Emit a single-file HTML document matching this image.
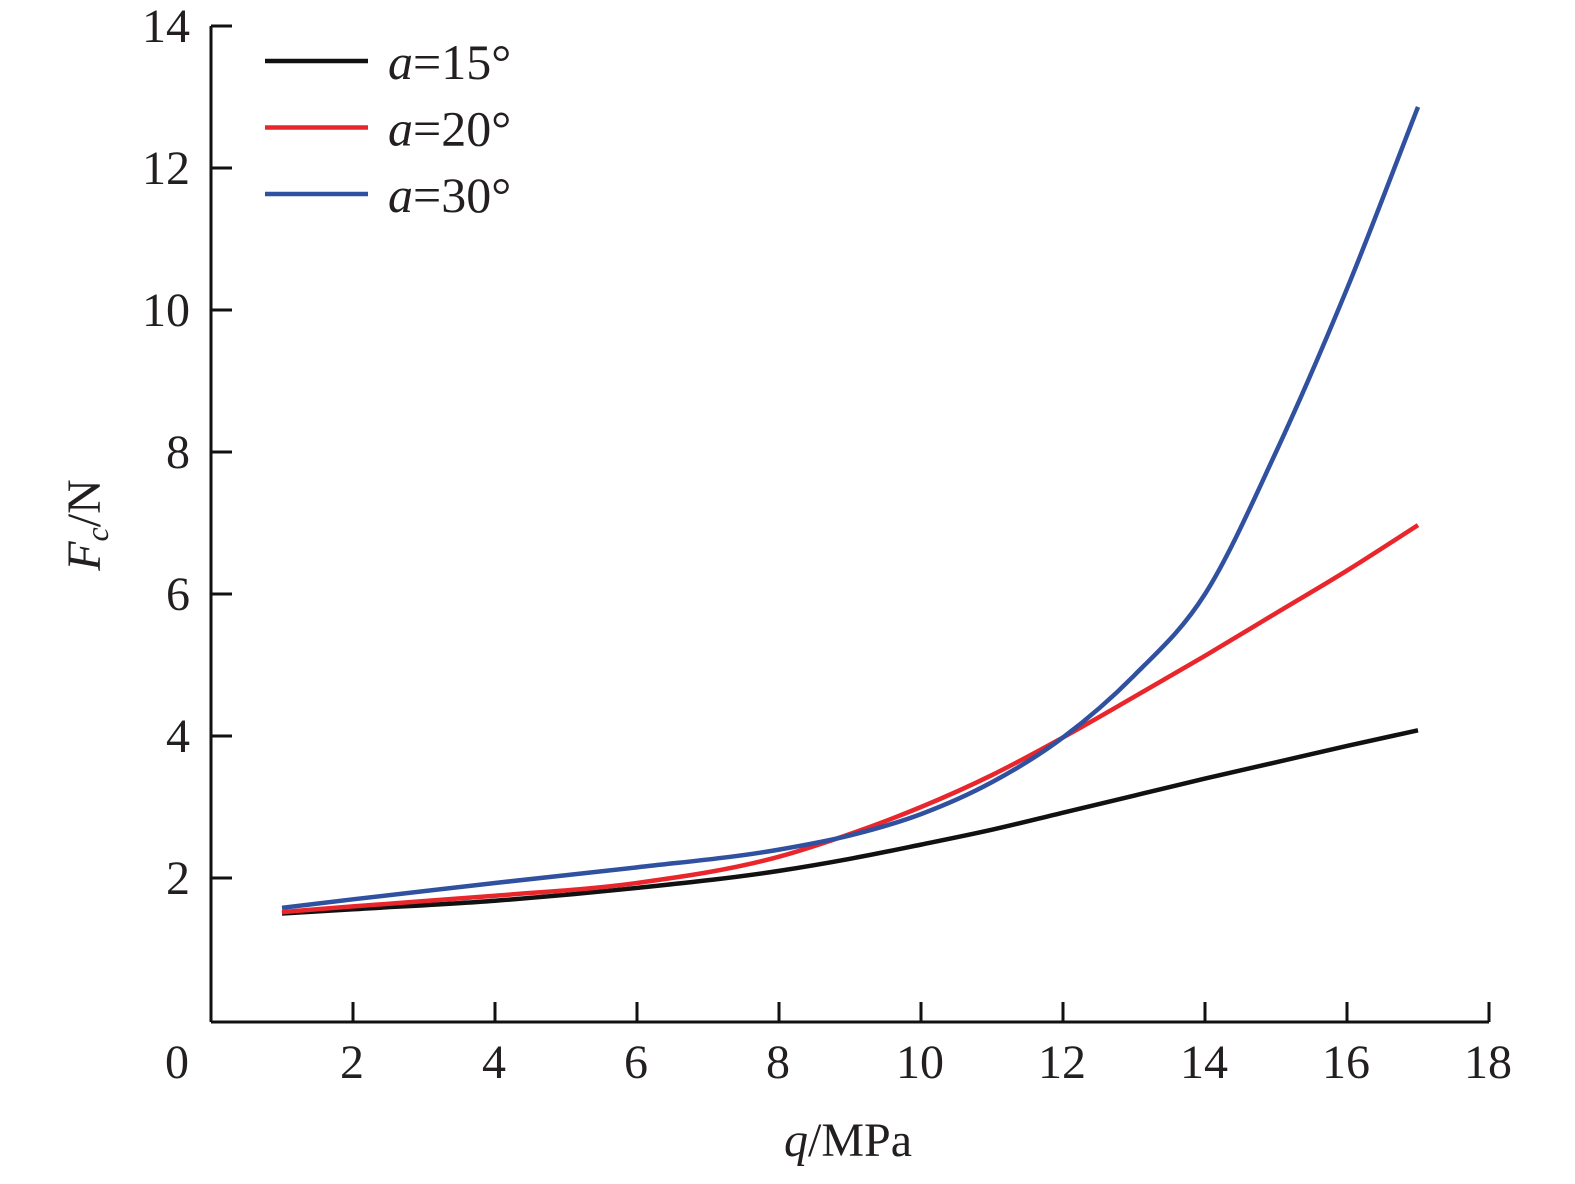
<!DOCTYPE html>
<html><head><meta charset="utf-8"><style>
body{margin:0;background:#fff}
svg text{font-family:"Liberation Serif",serif;fill:#231f20}
</style></head><body>
<svg width="1575" height="1179" viewBox="0 0 1575 1179" xmlns="http://www.w3.org/2000/svg">
<g id="axes"></g><g id="series"></g><g id="legend"></g>
<text x="848" y="1156" font-size="48" text-anchor="middle"><tspan font-style="italic">q</tspan>/MPa</text>
<text transform="translate(100,525) rotate(-90)" font-size="48" text-anchor="middle"><tspan font-style="italic">F</tspan><tspan font-style="italic" font-size="32" dy="8">c</tspan><tspan dy="-8">/N</tspan></text>
</svg>
<script>
const xTicks=[0,2,4,6,8,10,12,14,16,18];
const yTicks=[2,4,6,8,10,12,14];
const qValues=[1,2,4,6,8,9,10,11,12,13,14,15,16,17];
const series15=[1.5,1.56,1.68,1.86,2.1,2.27,2.47,2.68,2.92,3.16,3.4,3.63,3.86,4.08];
const series20=[1.52,1.6,1.75,1.93,2.3,2.62,3.0,3.45,3.98,4.55,5.13,5.73,6.33,6.97];
const series30=[1.58,1.7,1.93,2.15,2.4,2.6,2.9,3.35,3.98,4.85,6.0,8.0,10.3,12.86];
const labels=["15°","20°","30°"];
const colors=["#111","#e8262b","#3050a0"];
const NS="http://www.w3.org/2000/svg";
const X=v=>211+71*v, Y=v=>1020-71*v;
function mk(t,a,p){const e=document.createElementNS(NS,t);for(const k in a)e.setAttribute(k,a[k]);p.appendChild(e);return e;}
const ax=document.getElementById('axes');
const xl=mk('line',{x1:211,y1:1022,x2:X(18),y2:1022,stroke:'#111','stroke-width':3},ax);


const yl=mk('line',{x1:211,y1:1022,x2:211,y2:Y(14),stroke:'#111','stroke-width':3},ax);


xTicks.forEach(v=>{
  if(v>0){const t=mk('line',{x1:X(v),y1:1022,x2:X(v),y2:1002,stroke:'#111','stroke-width':3},ax);
  
  }
  const l=mk('text',{x:v==0?177:X(v)-1,y:1078,'font-size':48,'text-anchor':'middle'},ax);l.textContent=v;
  
  
});
yTicks.forEach(v=>{
  const t=mk('line',{x1:211,y1:Y(v),x2:232,y2:Y(v),stroke:'#111','stroke-width':3},ax);
  
  
  const l=mk('text',{x:190,y:Y(v)+16,'font-size':48,'text-anchor':'end'},ax);l.textContent=v;
  
  
});
function path(xs,ys){
  const n=xs.length,d=[],m=[];
  for(let i=0;i<n-1;i++)d.push((ys[i+1]-ys[i])/(xs[i+1]-xs[i]));
  m[0]=d[0];m[n-1]=d[n-2];
  for(let i=1;i<n-1;i++){const h0=xs[i]-xs[i-1],h1=xs[i+1]-xs[i];m[i]=(d[i-1]*h1+d[i]*h0)/(h0+h1);}
  let s=`M${X(xs[0])},${Y(ys[0])}`;
  for(let i=0;i<n-1;i++){const h=xs[i+1]-xs[i];
    s+=` C${X(xs[i]+h/3)},${Y(ys[i]+m[i]*h/3)} ${X(xs[i+1]-h/3)},${Y(ys[i+1]-m[i+1]*h/3)} ${X(xs[i+1])},${Y(ys[i+1])}`;}
  return s;}
const sg=document.getElementById('series');
[series15,series20,series30].forEach((s,i)=>{
  const e=mk('path',{d:path(qValues,s),fill:'none',stroke:colors[i],'stroke-width':4.5},sg);
  
  
});
const lg=document.getElementById('legend');
labels.forEach((t,i)=>{
  const y=61+66.5*i;
  const l=mk('line',{x1:265,y1:y,x2:368,y2:y,stroke:colors[i],'stroke-width':4.5},lg);
  
  
  const tx=mk('text',{x:388,y:y+18,'font-size':50},lg);
  tx.innerHTML='<tspan font-style="italic">a</tspan>='+t;
  
  
});
</script>
</body></html>
